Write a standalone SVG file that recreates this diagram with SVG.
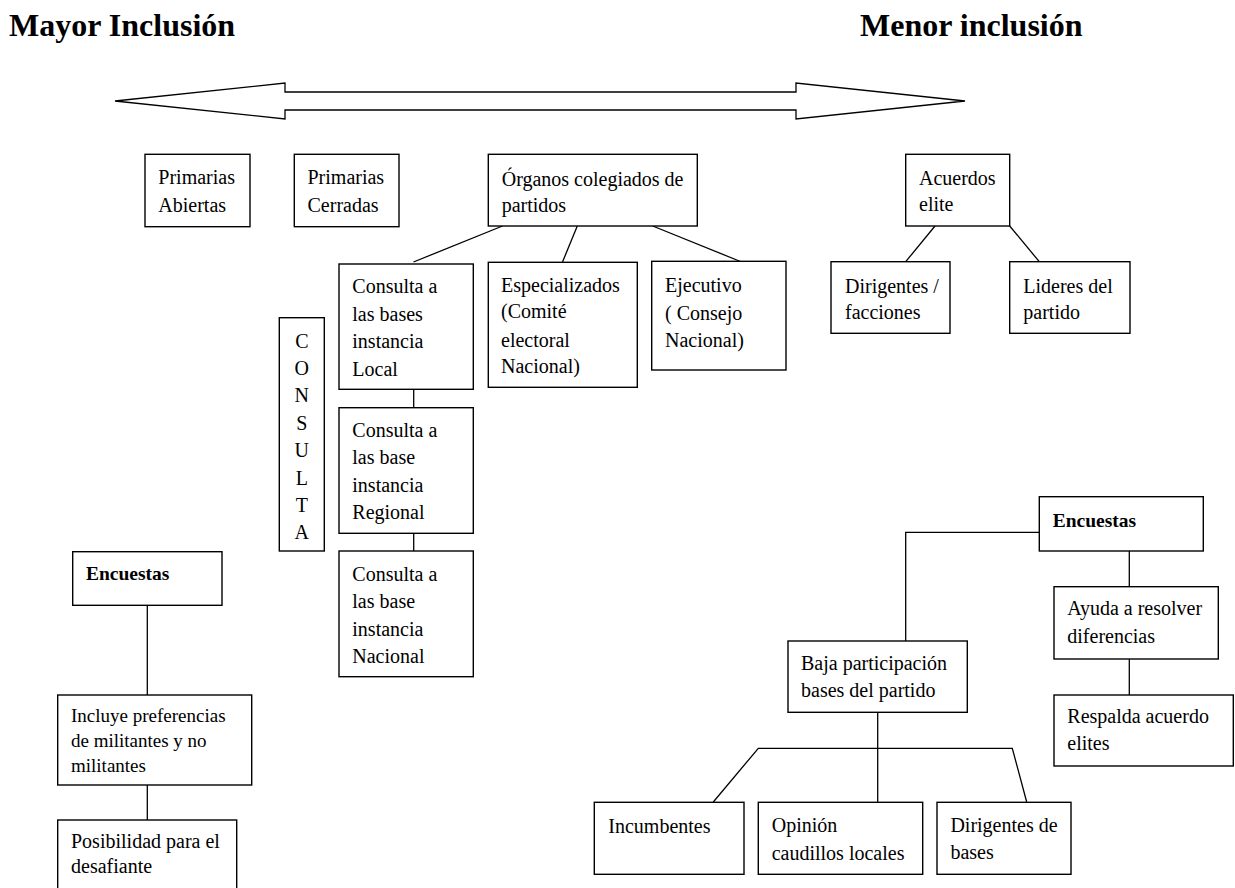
<svg xmlns="http://www.w3.org/2000/svg" width="1235" height="888" viewBox="0 0 1235 888">
<style>
.b{fill:#fff;stroke:#000;stroke-width:1.4}
.t{font-family:"Liberation Serif","Times New Roman",serif;font-size:20px;fill:#000}
.s{font-size:19px}
.h{font-family:"Liberation Serif","Times New Roman",serif;font-size:32px;font-weight:bold;fill:#000}
.e{font-family:"Liberation Serif","Times New Roman",serif;font-size:19.5px;font-weight:bold;fill:#000}
.c{fill:none;stroke:#000;stroke-width:1.3}
</style>
<rect width="1235" height="888" fill="#fff"/>
<text class="h" x="9" y="36">Mayor Inclusión</text>
<text class="h" x="860" y="36">Menor inclusión</text>
<polygon id="arrow" points="115,101 285,83 285,92 796,92 796,83 965,101 796,119 796,110 285,110 285,119" fill="#fff" stroke="#000" stroke-width="1.3"/>
<g id="connectors">
<line class="c" x1="502.5" y1="226" x2="413.5" y2="262"/>
<line class="c" x1="577.3" y1="226" x2="562.5" y2="262"/>
<line class="c" x1="652.7" y1="226" x2="741.7" y2="262"/>
<line class="c" x1="413.7" y1="389.3" x2="413.7" y2="407.7"/>
<line class="c" x1="413.7" y1="533.3" x2="413.7" y2="551"/>
<line class="c" x1="935" y1="226" x2="905.7" y2="261.7"/>
<line class="c" x1="1009.7" y1="226" x2="1039.3" y2="261.7"/>
<line class="c" x1="147.3" y1="605.3" x2="147.3" y2="695"/>
<line class="c" x1="147.3" y1="785" x2="147.3" y2="820"/>
<polyline class="c" points="1039.3,532.3 905.7,532.3 905.7,641"/>
<line class="c" x1="1129.3" y1="551" x2="1129.3" y2="586.7"/>
<line class="c" x1="1129.3" y1="659" x2="1129.3" y2="695"/>
<line class="c" x1="877.7" y1="712" x2="877.7" y2="802"/>
<polyline class="c" points="713.3,802 758.3,748.3 1012.3,748.3 1026.7,802"/>
</g>
<g id="n-abiertas"><rect class="b" x="145" y="154.3" width="105" height="72.4"/>
<text class="t" x="158.3" y="184">Primarias</text><text class="t" x="158.3" y="211.7">Abiertas</text></g>
<g id="n-cerradas"><rect class="b" x="294.3" y="154.3" width="104.7" height="72.4"/>
<text class="t" x="307.5" y="184">Primarias</text><text class="t" x="307.5" y="211.7">Cerradas</text></g>
<g id="n-organos"><rect class="b" x="488.3" y="154.3" width="209" height="71.7"/>
<text class="t" x="501.7" y="185.7">Órganos colegiados de</text><text class="t" x="501.7" y="211.7">partidos</text></g>
<g id="n-acuerdos"><rect class="b" x="905.7" y="154.3" width="104" height="71.7"/>
<text class="t" x="919" y="185">Acuerdos</text><text class="t" x="919" y="210.7">elite</text></g>
<g id="n-local"><rect class="b" x="339" y="264" width="134.3" height="125.3"/>
<text class="t" x="352.3" y="293.3">Consulta a</text><text class="t" x="352.3" y="321">las bases</text><text class="t" x="352.3" y="348.3">instancia</text><text class="t" x="352.3" y="376">Local</text></g>
<g id="n-regional"><rect class="b" x="339" y="407.7" width="134.3" height="125.6"/>
<text class="t" x="352.3" y="436.7">Consulta a</text><text class="t" x="352.3" y="463.7">las base</text><text class="t" x="352.3" y="491.7">instancia</text><text class="t" x="352.3" y="519.3">Regional</text></g>
<g id="n-nacional"><rect class="b" x="339" y="551" width="134.3" height="125.7"/>
<text class="t" x="352.3" y="580.7">Consulta a</text><text class="t" x="352.3" y="607.7">las base</text><text class="t" x="352.3" y="635.7">instancia</text><text class="t" x="352.3" y="662.7">Nacional</text></g>
<g id="n-consulta"><rect class="b" x="279.3" y="317.7" width="45" height="233.3"/>
<g class="t" text-anchor="middle"><text x="301.8" y="348.3">C</text><text x="301.8" y="375">O</text><text x="301.8" y="401.7">N</text><text x="301.8" y="430">S</text><text x="301.8" y="456.7">U</text><text x="301.8" y="485">L</text><text x="301.8" y="511.7">T</text><text x="301.8" y="539.3">A</text></g></g>
<g id="n-especializados"><rect class="b" x="488.3" y="262.3" width="149" height="125"/>
<text class="t" x="501" y="291.7">Especializados</text><text class="t" x="501" y="318.3">(Comité</text><text class="t" x="501" y="346.7">electoral</text><text class="t" x="501" y="373.3">Nacional)</text></g>
<g id="n-ejecutivo"><rect class="b" x="651.7" y="261.3" width="134.3" height="108.7"/>
<text class="t" x="665" y="291.7">Ejecutivo</text><text class="t" x="665" y="320">( Consejo</text><text class="t" x="665" y="346.7">Nacional)</text></g>
<g id="n-dirigentes"><rect class="b" x="831" y="261.7" width="119" height="71.6"/>
<text class="t" x="845" y="293.3">Dirigentes /</text><text class="t" x="845" y="319">facciones</text></g>
<g id="n-lideres"><rect class="b" x="1009.7" y="261.7" width="120.3" height="71.6"/>
<text class="t" x="1023.3" y="293.3">Lideres del</text><text class="t" x="1023.3" y="319">partido</text></g>
<g id="n-encuestas-l"><rect class="b" x="72.7" y="551.7" width="149.3" height="53.6"/>
<text class="e" x="86" y="580">Encuestas</text></g>
<g id="n-incluye"><rect class="b" x="57.7" y="695" width="194" height="90"/>
<text class="t s" x="71" y="722.3">Incluye preferencias</text><text class="t s" x="71" y="747.3">de militantes y no</text><text class="t s" x="71" y="771.7">militantes</text></g>
<g id="n-posibilidad"><rect class="b" x="57.7" y="820" width="179" height="75"/>
<text class="t" x="71" y="848.3">Posibilidad para el</text><text class="t" x="71" y="873.3">desafiante</text></g>
<g id="n-encuestas-r"><rect class="b" x="1039.3" y="496.7" width="164" height="54.3"/>
<text class="e" x="1052.7" y="526.7">Encuestas</text></g>
<g id="n-ayuda"><rect class="b" x="1054" y="586.7" width="164.3" height="72.3"/>
<text class="t" x="1067.3" y="615">Ayuda a resolver</text><text class="t" x="1067.3" y="643.3">diferencias</text></g>
<g id="n-respalda"><rect class="b" x="1054" y="695" width="179.3" height="71"/>
<text class="t" x="1067.3" y="723.3">Respalda acuerdo</text><text class="t" x="1067.3" y="750">elites</text></g>
<g id="n-baja"><rect class="b" x="788" y="641" width="179.3" height="71.3"/>
<text class="t" x="801" y="670">Baja participación</text><text class="t" x="801" y="697.3">bases del partido</text></g>
<g id="n-incumbentes"><rect class="b" x="594.3" y="802.3" width="149.7" height="72"/>
<text class="t" x="608.3" y="833.3">Incumbentes</text></g>
<g id="n-opinion"><rect class="b" x="758.3" y="802.3" width="164.4" height="72"/>
<text class="t" x="771.7" y="831.7">Opinión</text><text class="t" x="771.7" y="860">caudillos locales</text></g>
<g id="n-dirigentes-bases"><rect class="b" x="937" y="802.3" width="134" height="72"/>
<text class="t" x="950.4" y="831.7">Dirigentes de</text><text class="t" x="950.4" y="859.3">bases</text></g>
</svg>
